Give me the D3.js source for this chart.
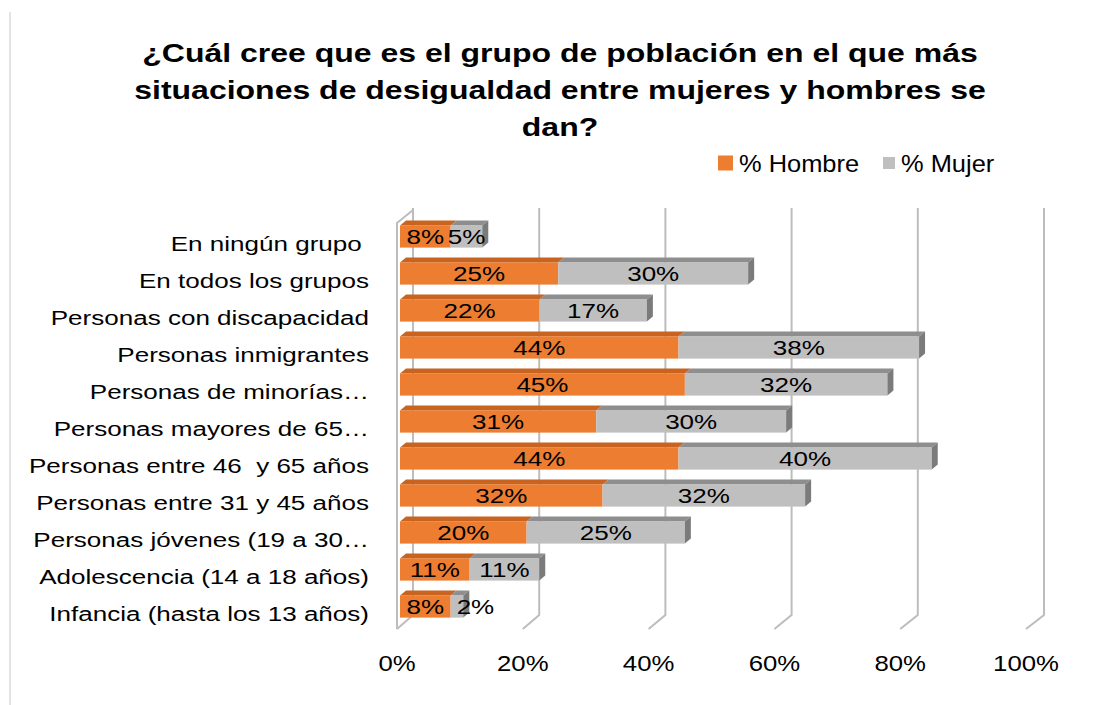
<!DOCTYPE html>
<html>
<head>
<meta charset="utf-8">
<script src="https://cdn.jsdelivr.net/npm/d3@7.9.0/dist/d3.min.js"></script>
<style>
  body { margin: 0; background: #fff; }
  svg { display: block; font-family: "Liberation Sans", Arial, sans-serif; }
  text { white-space: pre; }
</style>
</head>
<body>
<svg id="chart" width="1099" height="705"></svg>
<script>
const titleLines = [
  '¿Cuál cree que es el grupo de población en el que más',
  'situaciones de desigualdad entre mujeres y hombres se',
  'dan?'
];
const categories = [
  'En ningún grupo ',
  'En todos los grupos',
  'Personas con discapacidad',
  'Personas inmigrantes',
  'Personas de minorías…',
  'Personas mayores de 65…',
  'Personas entre 46  y 65 años',
  'Personas entre 31 y 45 años',
  'Personas jóvenes (19 a 30…',
  'Adolescencia (14 a 18 años)',
  'Infancia (hasta los 13 años)'
];
const hombre = [8, 25, 22, 44, 45, 31, 44, 32, 20, 11, 8];
const mujer = [5, 30, 17, 38, 32, 30, 40, 32, 25, 11, 2];
const seriesNames = ['% Hombre', '% Mujer'];
const tickValues = [0, 20, 40, 60, 80, 100];

const svg = d3.select('#chart');

// faces: front, top, side
const palette = {
  '% Hombre': { front: '#ED7D31', top: '#C8641F', side: '#B85A1A' },
  '% Mujer': { front: '#BFBFBF', top: '#8E8E8E', side: '#7B7B7B' }
};

const rows = categories.map((c, i) => ({ cat: c, '% Hombre': hombre[i], '% Mujer': mujer[i] }));
const stacked = d3.stack().keys(seriesNames)(rows);

// three depth planes of the 3D box
const xBar = d3.scaleLinear().domain([0, 100]).range([400, 1033]);
const xBack = d3.scaleLinear().domain([0, 100]).range([413, 1044]);
const xFront = d3.scaleLinear().domain([0, 100]).range([397, 1026]);
const y = d3.scaleBand().domain(categories).range([218, 625]).paddingInner(0.4).paddingOuter(0.2);

const backTop = 208, backBottom = 615, frontBottom = 629;
const depth = { dx: 6, dy: -5 };

// outer frame line
svg.append('line')
  .attr('x1', 10).attr('x2', 10).attr('y1', 12).attr('y2', 705)
  .attr('stroke', '#d0d0d0').attr('stroke-width', 1.2);

// title
svg.append('g')
  .selectAll('g')
  .data(titleLines)
  .join('g')
  .attr('transform', (d, i) => `translate(560,${62 + i * 37}) scale(1.28,1)`)
  .append('text')
  .attr('text-anchor', 'middle')
  .attr('font-size', 25)
  .attr('font-weight', 'bold')
  .attr('fill', '#000')
  .text(d => d);

// legend
const legendItems = [
  { name: seriesNames[0], x: 718, size: 15 },
  { name: seriesNames[1], x: 883, size: 12 }
];
const lg = svg.append('g').selectAll('g').data(legendItems).join('g');
lg.append('rect')
  .attr('x', d => d.x)
  .attr('y', d => 163 - d.size / 2)
  .attr('width', d => d.size)
  .attr('height', d => d.size)
  .attr('fill', d => palette[d.name].front);
lg.append('g')
  .attr('transform', d => `translate(${d.x + d.size + 6},172) scale(1.06,1)`)
  .append('text')
  .attr('font-size', 24)
  .text(d => d.name);

// grid: back wall verticals + floor diagonals
const grid = svg.append('g')
  .attr('stroke', '#bdbdbd')
  .attr('stroke-width', 2)
  .attr('fill', 'none');
grid.selectAll('path.gl')
  .data(tickValues)
  .join('path')
  .attr('class', 'gl')
  .attr('d', v => `M${xBack(v)},${backTop}V${backBottom}L${xFront(v)},${frontBottom}`);
// left wall edge
grid.append('path')
  .attr('d', `M${xFront(0)},${frontBottom}V${backTop + 15}L${xBack(0)},${backTop + 2}`);

// tick labels
svg.append('g')
  .selectAll('g')
  .data(tickValues)
  .join('g')
  .attr('transform', v => `translate(${xFront(v)},671) scale(1.12,1)`)
  .append('text')
  .attr('text-anchor', 'middle')
  .attr('font-size', 23)
  .text(v => v + '%');

// category labels
svg.append('g')
  .selectAll('g')
  .data(categories)
  .join('g')
  .attr('transform', c => `translate(369,${y(c) + y.bandwidth() / 2 + 14.5}) scale(1.24,1)`)
  .append('text')
  .attr('text-anchor', 'end')
  .attr('font-size', 21)
  .text(c => c);

// bars
const bars = svg.append('g');
stacked.forEach((layer, li) => {
  const col = palette[layer.key];
  const g = bars.append('g');
  layer.forEach(seg => {
    const x0 = xBar(seg[0]), x1 = xBar(seg[1]);
    const y0 = y(seg.data.cat), y1 = y0 + y.bandwidth();
    g.append('path')
      .attr('d', `M${x0},${y0}L${x0 + depth.dx},${y0 + depth.dy}L${x1 + depth.dx},${y0 + depth.dy}L${x1},${y0}Z`)
      .attr('fill', col.top);
    g.append('rect')
      .attr('x', x0).attr('y', y0)
      .attr('width', x1 - x0).attr('height', y1 - y0)
      .attr('fill', col.front);
    if (li === stacked.length - 1) {
      g.append('path')
        .attr('d', `M${x1},${y0}L${x1 + depth.dx},${y0 + depth.dy}L${x1 + depth.dx},${y1 + depth.dy}L${x1},${y1}Z`)
        .attr('fill', col.side);
    }
  });
});

// value labels
stacked.forEach(layer => {
  layer.forEach(seg => {
    const x0 = xBar(seg[0]), x1 = xBar(seg[1]);
    const yc = y(seg.data.cat) + y.bandwidth() / 2;
    const narrow = x1 - x0 < 15;
    bars.append('g')
      .attr('transform', `translate(${narrow ? x0 + 6 : (x0 + x1) / 2},${yc + 7.5}) scale(1.24,1)`)
      .append('text')
      .attr('text-anchor', narrow ? 'start' : 'middle')
      .attr('font-size', 21)
      .text(Math.round(seg[1] - seg[0]) + '%');
  });
});
</script>
</body>
</html>
